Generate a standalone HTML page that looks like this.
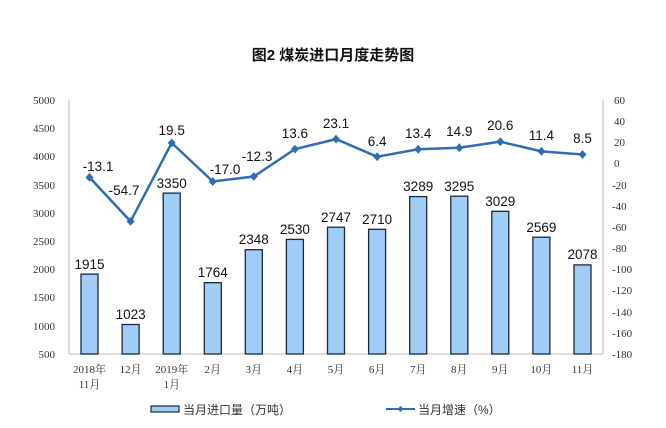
<!DOCTYPE html>
<html><head><meta charset="utf-8"><style>
body{margin:0;background:#fff;}
svg{display:block;}
.n{font-family:"Liberation Sans",sans-serif;font-size:13.5px;fill:#111;text-anchor:middle;}
.t{font-family:"Liberation Serif",serif;font-size:11px;fill:#333;}
.c{font-family:"Liberation Serif","Noto Serif CJK SC",serif;font-size:11px;fill:#333;text-anchor:middle;}
</style></head><body>
<svg width="666" height="428" viewBox="0 0 666 428" xmlns="http://www.w3.org/2000/svg">
<text x="333" y="60" text-anchor="middle" font-family="'Liberation Sans','Noto Sans CJK SC',sans-serif" font-size="15" font-weight="bold" fill="#111">图2  煤炭进口月度走势图</text>
<g stroke="#bbb" stroke-width="1">
<line x1="69" y1="100" x2="69" y2="354"/><line x1="603" y1="100" x2="603" y2="354"/><line x1="69" y1="354" x2="603" y2="354"/>
</g>
<g class="t" text-anchor="end">
<text x="55" y="104">5000</text><text x="55" y="132">4500</text><text x="55" y="160">4000</text><text x="55" y="189">3500</text><text x="55" y="217">3000</text><text x="55" y="245">2500</text><text x="55" y="273">2000</text><text x="55" y="301">1500</text><text x="55" y="330">1000</text><text x="55" y="358">500</text>
</g>
<g class="t" text-anchor="start">
<text x="614" y="104">60</text><text x="614" y="125">40</text><text x="614" y="146">20</text><text x="614" y="167">0</text><text x="612" y="189">-20</text><text x="612" y="210">-40</text><text x="612" y="231">-60</text><text x="612" y="252">-80</text><text x="612" y="273">-100</text><text x="612" y="294">-120</text><text x="612" y="316">-140</text><text x="612" y="337">-160</text><text x="612" y="358">-180</text>
</g>
<g fill="#9fcdf5" stroke="#1a2a3a" stroke-width="1.3">
<rect x="81" y="274.1" width="17" height="79.9"/>
<rect x="122.1" y="324.5" width="17" height="29.5"/>
<rect x="163.2" y="193.1" width="17" height="160.9"/>
<rect x="204.3" y="282.7" width="17" height="71.3"/>
<rect x="245.3" y="249.7" width="17" height="104.3"/>
<rect x="286.4" y="239.4" width="17" height="114.6"/>
<rect x="327.5" y="227.2" width="17" height="126.8"/>
<rect x="368.6" y="229.3" width="17" height="124.7"/>
<rect x="409.7" y="196.6" width="17" height="157.4"/>
<rect x="450.8" y="196.2" width="17" height="157.8"/>
<rect x="491.8" y="211.3" width="17" height="142.7"/>
<rect x="532.9" y="237.2" width="17" height="116.8"/>
<rect x="574" y="264.9" width="17" height="89.1"/>
</g>
<g class="n">
<text x="89.5" y="269">1915</text><text x="130.6" y="319">1023</text><text x="171.7" y="188">3350</text><text x="212.8" y="277">1764</text><text x="253.8" y="244">2348</text><text x="294.9" y="234">2530</text><text x="336" y="222">2747</text><text x="377.1" y="224">2710</text><text x="418.2" y="191">3289</text><text x="459.3" y="191">3295</text><text x="500.3" y="206">3029</text><text x="541.4" y="232">2569</text><text x="582.5" y="259">2078</text>
</g>
<polyline fill="none" stroke="#2e6db4" stroke-width="2.5" points="89.5,177.4 130.6,221.4 171.7,142.9 212.8,181.5 253.8,176.5 294.9,149.1 336,139.1 377.1,156.7 418.2,149.3 459.3,147.7 500.3,141.7 541.4,151.4 582.5,154.5"/>
<g fill="#2e6db4">
<path d="M89.5 173l4 4.4-4 4.4-4-4.4z"/><path d="M130.6 217l4 4.4-4 4.4-4-4.4z"/><path d="M171.7 138.5l4 4.4-4 4.4-4-4.4z"/><path d="M212.8 177.1l4 4.4-4 4.4-4-4.4z"/><path d="M253.8 172.1l4 4.4-4 4.4-4-4.4z"/><path d="M294.9 144.7l4 4.4-4 4.4-4-4.4z"/><path d="M336 134.7l4 4.4-4 4.4-4-4.4z"/><path d="M377.1 152.3l4 4.4-4 4.4-4-4.4z"/><path d="M418.2 144.9l4 4.4-4 4.4-4-4.4z"/><path d="M459.3 143.3l4 4.4-4 4.4-4-4.4z"/><path d="M500.3 137.3l4 4.4-4 4.4-4-4.4z"/><path d="M541.4 147l4 4.4-4 4.4-4-4.4z"/><path d="M582.5 150.1l4 4.4-4 4.4-4-4.4z"/>
</g>
<g class="n">
<text x="98" y="171">-13.1</text><text x="124" y="195">-54.7</text><text x="171.7" y="135">19.5</text><text x="225" y="174">-17.0</text><text x="257" y="161">-12.3</text><text x="294.9" y="138">13.6</text><text x="336" y="128">23.1</text><text x="377.1" y="146">6.4</text><text x="418.2" y="138">13.4</text><text x="459.3" y="136">14.9</text><text x="500.3" y="130">20.6</text><text x="541.4" y="140">11.4</text><text x="582.5" y="143">8.5</text>
</g>
<g class="c">
<text x="89.5" y="373">2018年</text><text x="89.5" y="388">11月</text><text x="130.6" y="373">12月</text><text x="171.7" y="373">2019年</text><text x="171.7" y="388">1月</text><text x="212.8" y="373">2月</text><text x="253.8" y="373">3月</text><text x="294.9" y="373">4月</text><text x="336" y="373">5月</text><text x="377.1" y="373">6月</text><text x="418.2" y="373">7月</text><text x="459.3" y="373">8月</text><text x="500.3" y="373">9月</text><text x="541.4" y="373">10月</text><text x="582.5" y="373">11月</text>
</g>
<rect x="151" y="406" width="28" height="6" fill="#9fcdf5" stroke="#1a2a3a" stroke-width="1.2"/>
<text x="183" y="414" font-family="'Liberation Sans','Noto Sans CJK SC',sans-serif" font-size="12" fill="#333">当月进口量（万吨）</text>
<line x1="386" y1="409" x2="415" y2="409" stroke="#2e6db4" stroke-width="2"/>
<path d="M400.5 406l3 3-3 3-3-3z" fill="#2e6db4"/>
<text x="418" y="414" font-family="'Liberation Sans','Noto Sans CJK SC',sans-serif" font-size="12" fill="#333">当月增速（%）</text>
</svg>
</body></html>
